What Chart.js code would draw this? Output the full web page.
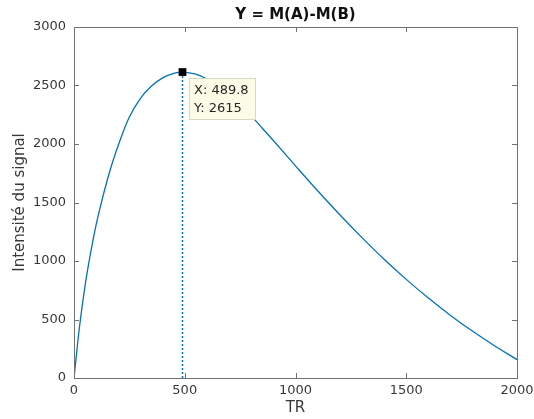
<!DOCTYPE html>
<html>
<head>
<meta charset="utf-8">
<script src="https://cdn.jsdelivr.net/npm/chart.js@4/dist/chart.umd.min.js"></script>
<style>
html,body{margin:0;padding:0;background:#fff;}
canvas{display:block;}
</style>
</head>
<body>
<canvas id="c" width="534" height="419"></canvas>
<script>
// Data
const TR = [0,25,50,75,100,125,150,175,200,250,300,350,400,450,489.8,550,600,650,700,750,800,850,900,1000,1100,1200,1300,1400,1500,1600,1700,1800,1900,2000];
const signal = [0,440,790,1070,1310,1510,1690,1850,1990,2230,2390,2495,2565,2603,2615,2597,2555,2495,2425,2340,2240,2135,2030,1813,1600,1395,1200,1015,843,683,535,399,274,157];
const peakTR = [489.8];
const peakY = [2615];
const xTicks = [0,500,1000,1500,2000];
const yTicks = [0,500,1000,1500,2000,2500,3000];
const titleText = 'Y = M(A)-M(B)';
const xLabel = 'TR';
const yLabel = 'Intensité du signal';
const tipLines = ['X: ' + peakTR[0], 'Y: ' + peakY[0]];

const FONT = "'DejaVu Sans', sans-serif";
const BLUE = '#0072BD';
const TXT = '#383838';
const AX = '#707070';

const curve = TR.map((t,i)=>({x:t,y:signal[i]}));
const stem = [{x:peakTR[0],y:0},{x:peakTR[0],y:peakY[0]}];
const marker = [{x:peakTR[0],y:peakY[0]}];

const decor = {
  id:'decor',
  afterDraw(chart){
    const {ctx, chartArea:{left,right,top,bottom}, scales:{x,y}} = chart;
    ctx.save();
    ctx.strokeStyle = AX; ctx.lineWidth = 1;
    ctx.strokeRect(Math.round(left)+0.5, Math.round(top)+0.5, Math.round(right-left), Math.round(bottom-top));
    ctx.beginPath();
    xTicks.forEach(v=>{
      const p = Math.round(x.getPixelForValue(v))+0.5;
      ctx.moveTo(p,bottom); ctx.lineTo(p,bottom-5);
      ctx.moveTo(p,top); ctx.lineTo(p,top+5);
    });
    yTicks.forEach(v=>{
      const p = Math.round(y.getPixelForValue(v))+0.5;
      ctx.moveTo(left,p); ctx.lineTo(left+5,p);
      ctx.moveTo(right,p); ctx.lineTo(right-5,p);
    });
    ctx.stroke();
    ctx.fillStyle = '#111';
    ctx.font = "bold 15px " + FONT;
    ctx.textAlign = 'center'; ctx.textBaseline = 'middle';
    ctx.fillText(titleText, (left+right)/2, 15);
    const px = x.getPixelForValue(peakTR[0]);
    const py = y.getPixelForValue(peakY[0]);
    const bx = Math.round(px+7)+0.5, by = Math.round(py+6)+0.5, bw = 66, bh = 41;
    ctx.fillStyle = '#FBFBE6';
    ctx.fillRect(bx,by,bw,bh);
    ctx.strokeStyle = '#D8D8C8';
    ctx.strokeRect(bx,by,bw,bh);
    ctx.fillStyle = '#262626';
    ctx.font = "13px " + FONT;
    ctx.textAlign = 'left'; ctx.textBaseline = 'middle';
    ctx.fillText(tipLines[0], bx+4.5, by+12.5);
    ctx.fillText(tipLines[1], bx+4.5, by+30);
    ctx.restore();
  }
};

new Chart(document.getElementById('c'), {
  type:'scatter',
  data:{
    datasets:[
      {data:curve, showLine:true, borderColor:BLUE, borderWidth:1.3, pointRadius:0, tension:0.4, order:3},
      {data:stem, showLine:true, borderColor:BLUE, borderWidth:1.5, borderDash:[2,2], pointRadius:0, order:2},
      {data:marker, showLine:false, pointStyle:'rect', pointRadius:5.5, backgroundColor:'#000', borderColor:'#000', borderWidth:0, order:1}
    ]
  },
  plugins:[decor],
  options:{
    responsive:false,
    animation:false,
    devicePixelRatio:1,
    layout:{padding:{left:0,right:17,top:27,bottom:0}},
    plugins:{legend:{display:false}, tooltip:{enabled:false}, title:{display:false}},
    scales:{
      x:{
        type:'linear', min:0, max:2000,
        afterBuildTicks(s){ s.ticks = xTicks.map(v=>({value:v})); },
        ticks:{font:{family:FONT,size:13}, color:TXT, padding:5, maxRotation:0, autoSkip:false, callback:v=>String(v)},
        grid:{display:false, drawTicks:false}, border:{display:false},
        title:{display:true, text:xLabel, font:{family:FONT,size:15}, color:TXT, padding:{top:0,bottom:2}},
        afterFit(s){ s.height = 41; s.paddingRight = 0; }
      },
      y:{
        type:'linear', min:0, max:3000,
        afterBuildTicks(s){ s.ticks = yTicks.map(v=>({value:v})); },
        ticks:{font:{family:FONT,size:13}, color:TXT, padding:8, autoSkip:false, callback:v=>String(v)},
        grid:{display:false, drawTicks:false}, border:{display:false},
        title:{display:true, text:yLabel, font:{family:FONT,size:15}, color:TXT, padding:{top:11,bottom:0}},
        afterFit(s){ s.width = 74; }
      }
    }
  }
});
</script>
</body>
</html>
